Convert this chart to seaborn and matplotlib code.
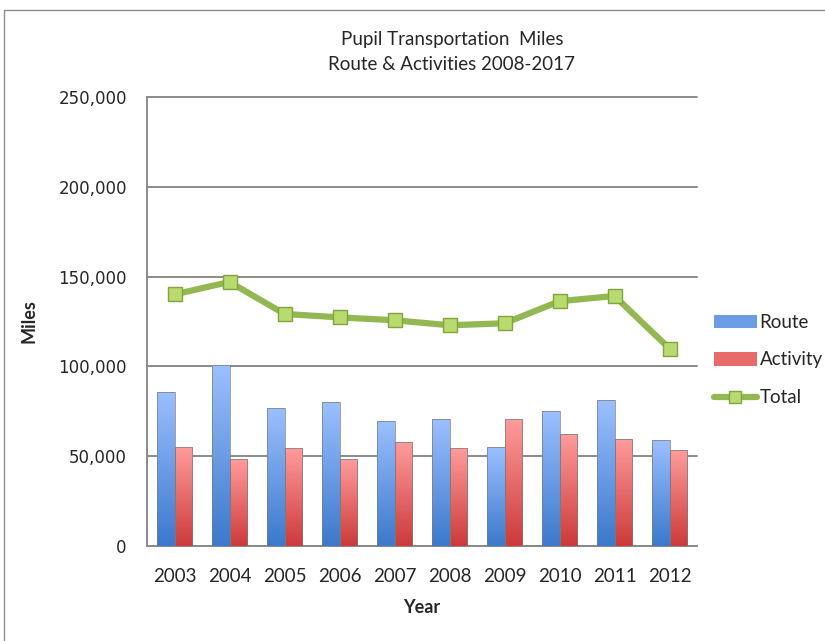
import numpy as np
import pandas as pd
import matplotlib
matplotlib.use('Agg')
import matplotlib.pyplot as plt
import seaborn as sns
from matplotlib.patches import Patch, Rectangle
from matplotlib.lines import Line2D
from matplotlib.colors import LinearSegmentedColormap
from matplotlib.ticker import FuncFormatter, MultipleLocator, FixedLocator

# data
years = ['2003', '2004', '2005', '2006', '2007', '2008', '2009', '2010', '2011', '2012']
route = [85800, 100800, 76700, 80000, 69400, 70500, 55000, 75000, 81100, 58900]
activity = [55000, 48300, 54400, 48300, 57700, 54400, 70500, 62400, 59600, 53300]
total = [140100, 147000, 129200, 127300, 125700, 122900, 124000, 136300, 139200, 109900]

sns.set_style('white')
plt.rcParams['font.family'] = ['Lato', 'DejaVu Sans']

grid_col = '#8a8a8a'
route_top, route_bot = '#9cc0ff', '#3b79cb'
act_top, act_bot = '#ff9c9c', '#cc3a3a'
line_col = '#93b851'

df = pd.DataFrame({
    'Year': years + years,
    'Miles': route + activity,
    'Series': ['Route'] * len(years) + ['Activity'] * len(years),
})

fig = plt.figure(figsize=(8.25, 6.41), dpi=100)
ax = fig.add_axes([147 / 825, 1 - 546 / 641, 550 / 825, 449 / 641])

sns.barplot(data=df, x='Year', y='Miles', hue='Series',
            palette={'Route': route_bot, 'Activity': act_bot},
            width=0.62, gap=0, ax=ax, legend=False,
            edgecolor='#7a7a7a', linewidth=0.5, zorder=3)

# vertical gradient fill for the bars
grad = np.linspace(0, 1, 256).reshape(-1, 1)
cmaps = [LinearSegmentedColormap.from_list('r', [route_bot, route_top]),
         LinearSegmentedColormap.from_list('a', [act_bot, act_top])]
for cont, cm in zip(ax.containers, cmaps):
    for bar in cont:
        x0, y0 = bar.get_x(), bar.get_y()
        w, h = bar.get_width(), bar.get_height()
        im = ax.imshow(grad, extent=[x0, x0 + w, y0, y0 + h], origin='lower',
                       cmap=cm, aspect='auto', zorder=3.5)
        im.set_clip_path(bar)
        bar.set_facecolor('none')
        bar.set_zorder(4)

sns.lineplot(x=np.arange(len(years)), y=total, ax=ax, color=line_col, lw=4.5,
             marker='s', markersize=9.5, markerfacecolor='#b8da6e',
             markeredgecolor='#7fa63c', markeredgewidth=1, zorder=5)

ax.set_xlim(-0.5, len(years) - 0.5)
ax.set_ylim(0, 250000)
ax.yaxis.set_major_locator(MultipleLocator(50000))
ax.yaxis.set_major_formatter(FuncFormatter(lambda v, p: f'{int(v):,}'))
ax.yaxis.grid(True, color=grid_col, lw=1.4, zorder=0)
for gl in ax.get_ygridlines():
    gl.set_clip_on(False)

for s in ['top', 'right']:
    ax.spines[s].set_visible(False)
for s in ['left', 'bottom']:
    ax.spines[s].set_color(grid_col)
    ax.spines[s].set_linewidth(1.4)

ax.set_xticks(range(len(years)))
ax.set_xticklabels(years, fontsize=13.5)
ax.xaxis.set_minor_locator(FixedLocator(np.arange(-0.5, len(years), 1)))
ax.tick_params(axis='x', which='major', length=0, pad=16)
ax.tick_params(axis='x', which='minor', length=4.5, width=1.2, color=grid_col, direction='out')
ax.tick_params(axis='y', length=4.5, width=1.2, color=grid_col, direction='out', pad=10)
for t in ax.get_yticklabels():
    t.set_fontfamily('DejaVu Sans')
    t.set_fontsize(12)

ax.set_xlabel('Year', fontsize=13, fontweight='bold', labelpad=10)
ax.set_ylabel('Miles', fontsize=13, fontweight='bold')
ax.yaxis.set_label_coords((38 - 147) / 550, 0.5)

fig.text(452 / 825, 1 - 40 / 641, 'Pupil Transportation  Miles', ha='center', va='center', fontsize=13.5)
fig.text(452 / 825, 1 - 64 / 641, 'Route & Activities 2008-2017', ha='center', va='center', fontsize=13.5)

handles = [Patch(facecolor='#6b9de6', edgecolor='none'),
           Patch(facecolor='#e86a6a', edgecolor='none'),
           Line2D([], [], color=line_col, lw=4.5, marker='s', markersize=9,
                  markerfacecolor='#b8da6e', markeredgecolor='#7fa63c')]
fig.legend(handles, ['Route', 'Activity', 'Total'], loc='center left',
           bbox_to_anchor=(706 / 825, 1 - 360 / 641), frameon=False, fontsize=13.5,
           handlelength=2.3, handletextpad=0.15, labelspacing=1.1, borderaxespad=0)

fig.add_artist(Rectangle((4 / 825, -0.1), 1.2, 1.1 - 10 / 641, transform=fig.transFigure,
                         fill=False, edgecolor='#8c8c8c', lw=1))

fig.savefig('out.png', dpi=100)
